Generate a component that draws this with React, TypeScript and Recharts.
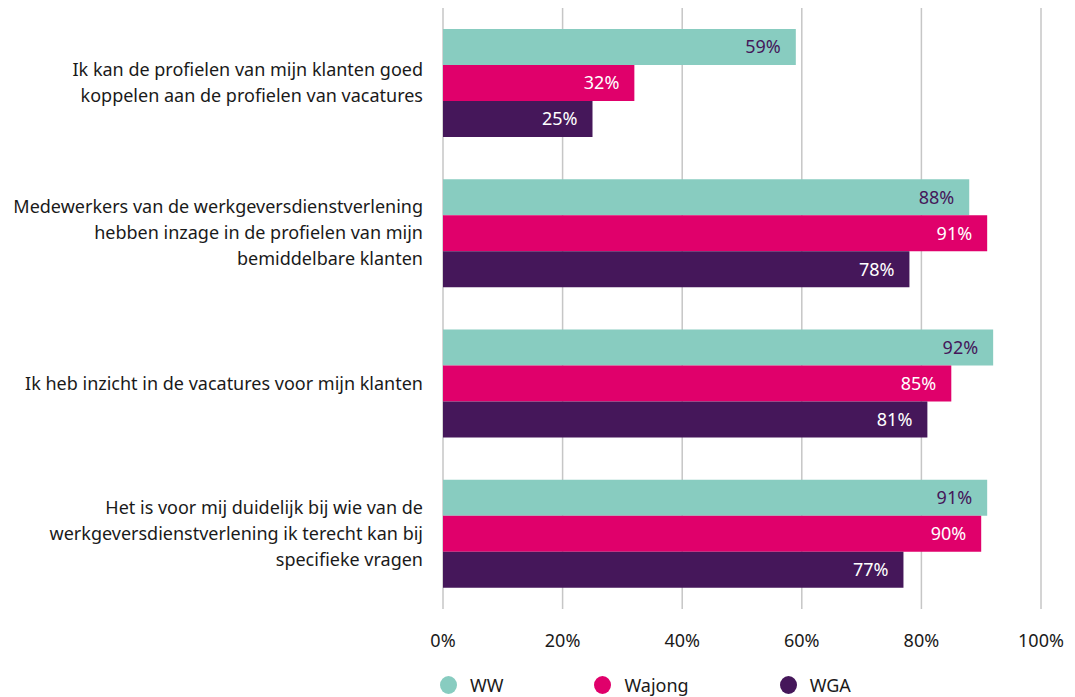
import { BarChart, Bar, XAxis, YAxis, CartesianGrid, LabelList, Legend } from "recharts"

const categories = [
  "Ik kan de profielen van mijn klanten goed|koppelen aan de profielen van vacatures",
  "Medewerkers van de werkgeversdienstverlening|hebben inzage in de profielen van mijn|bemiddelbare klanten",
  "Ik heb inzicht in de vacatures voor mijn klanten",
  "Het is voor mij duidelijk bij wie van de|werkgeversdienstverlening ik terecht kan bij|specifieke vragen",
]
const ww = [59, 88, 92, 91]
const wajong = [32, 91, 85, 90]
const wga = [25, 78, 81, 77]
const xTicks = [0, 20, 40, 60, 80, 100]

const series = [
  { key: "WW", values: ww, color: "#88ccc0", labelColor: "#45175a" },
  { key: "Wajong", values: wajong, color: "#e0006b", labelColor: "#ffffff" },
  { key: "WGA", values: wga, color: "#45175a", labelColor: "#ffffff" },
]

const data = categories.map((c, i) => ({
  name: c,
  WW: ww[i],
  Wajong: wajong[i],
  WGA: wga[i],
}))

const FONT = "'Noto Sans', sans-serif"

function CategoryTick(props: any) {
  const { x, y, payload } = props
  const lines: string[] = String(payload.value).split("|")
  const lh = 26
  const start = y - ((lines.length - 1) * lh) / 2 + 6
  const tx = x - 12
  return (
    <text x={tx} y={start} textAnchor="end" fontSize={18} fill="#1a1a1a" fontFamily={FONT}>
      {lines.map((l, i) => (
        <tspan key={i} x={tx} y={start + i * lh}>
          {l}
        </tspan>
      ))}
    </text>
  )
}

function LegendContent() {
  return (
    <div style={{ display: "flex", alignItems: "center", paddingLeft: 440, paddingTop: 14, fontFamily: FONT, fontSize: 18, color: "#1a1a1a" }}>
      {series.map((s) => (
        <div key={s.key} style={{ display: "flex", alignItems: "center", marginRight: 91 }}>
          <span style={{ display: "inline-block", width: 17, height: 18, borderRadius: "50%", background: s.color, marginRight: 13 }} />
          <span>{s.key}</span>
        </div>
      ))}
    </div>
  )
}

export default function App() {
  return (
    <div style={{ position: "absolute", left: 0, top: 0, background: "#fff" }}>
      <BarChart
        width={1075}
        height={697}
        data={data}
        layout="vertical"
        margin={{ top: 8, right: 34, bottom: 0, left: 0 }}
        barCategoryGap="14%"
        barGap={0}
      >
        <CartesianGrid horizontal={false} stroke="#c6c6c6" strokeWidth={1.5} />
        <XAxis
          type="number"
          domain={[0, 100]}
          ticks={xTicks}
          tickFormatter={(v) => `${v}%`}
          axisLine={false}
          tickLine={false}
          tick={{ fontSize: 18, fill: "#1a1a1a", fontFamily: FONT }}
          tickMargin={19}
          height={50}
        />
        <YAxis
          type="category"
          dataKey="name"
          width={443}
          axisLine={false}
          tickLine={false}
          tick={<CategoryTick />}
        />
        <Legend verticalAlign="bottom" height={38} content={<LegendContent />} />
        {series.map((s) => (
          <Bar key={s.key} dataKey={s.key} fill={s.color} isAnimationActive={false}>
            <LabelList
              dataKey={s.key}
              position="insideRight"
              offset={15}
              formatter={(v: any) => `${v}%`}
              fill={s.labelColor}
              fontSize={18}
              fontFamily={FONT}
            />
          </Bar>
        ))}
      </BarChart>
    </div>
  )
}
